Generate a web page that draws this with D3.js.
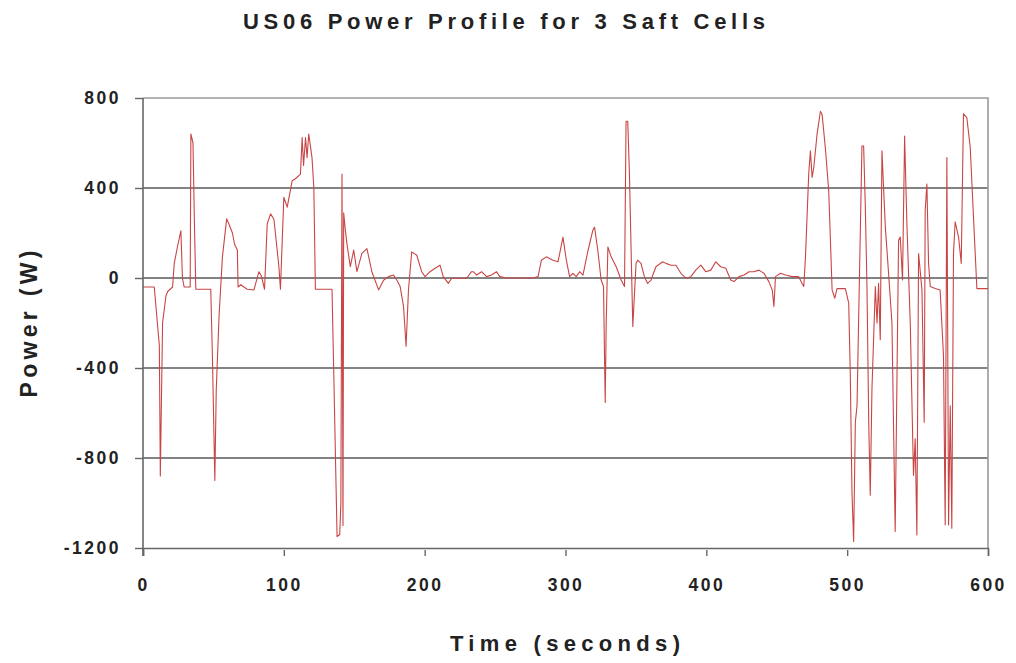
<!DOCTYPE html>
<html>
<head>
<meta charset="utf-8">
<script src="https://cdn.jsdelivr.net/npm/d3@7"></script>
<style>
  body { margin: 0; background: #fff; }
  text { font-family: "Liberation Sans", Arial, sans-serif; font-weight: bold; fill: #222; }
</style>
</head>
<body>
<script>
var w = 1016
var h = 663

// time in seconds, power in W
var times = [0, 8, 11.6, 12.3, 13.9, 16.3, 17.5, 21, 22.2, 24.5, 26.9, 28, 29.2, 31.6, 33.5, 34, 35.5, 36.5, 37.5,
    48.1, 49.3, 51, 52, 54, 56.4, 59.4, 61, 63.5, 65, 67, 67.5, 69.4, 74, 78.8, 82.3, 84, 86.3, 88.2, 90.6, 93,
    96.5, 97.6, 100, 102.4, 105.9, 108, 111.8, 113, 114, 115.4, 116.5, 117.7, 120, 121.3, 122.4, 134.2, 135.4,
    137.8, 139.7, 140.5, 141.3, 142, 142.5, 143.7, 144.8, 147.2, 149.6, 151.9, 155.4, 159, 162.5, 167.3, 170.8,
    174.3, 177.9, 180.2, 182.6, 185, 186.8, 188.5, 190.8, 194.4, 197.9, 200.3, 203.8, 207.4, 210.9, 213.2, 216.8,
    219.1, 222.7, 229.8, 233.3, 234.5, 236.9, 240.4, 243.9, 247.5, 251, 253.4, 258.1, 277, 280.5, 282.9, 286.4,
    291.1, 294.7, 298.2, 300.6, 302.9, 305.3, 307.6, 310, 312.4, 315.9, 319.4, 320.6, 323, 325.3, 327, 327.7,
    328.2, 328.9, 330.1, 332.4, 336, 339.5, 341.9, 343, 344.2, 345.4, 346.6, 347.8, 350.1, 351.3, 353.6, 356,
    358.3, 360.7, 364.2, 369, 371.3, 374.8, 378.4, 381.9, 385.5, 389, 392.5, 396.1, 399.6, 403.2, 406.7, 410.2,
    413.8, 417.3, 419.7, 423.2, 426.8, 430.3, 433.8, 437.4, 440.9, 444.4, 446.8, 448, 449.1, 452.7, 456.2, 460.9,
    465.6, 468, 469.2, 470.4, 472.7, 473.9, 475.1, 476.3, 478.6, 481, 482.2, 484.5, 486.9, 488.1, 489.3, 491.2,
    492.8, 498.7, 501.1, 502.2, 503.4, 504.6, 505.8, 507, 508.1, 510.5, 511.7, 512.9, 514.1, 515.3, 516.4, 517.6,
    520, 521.2, 522.3, 523.5, 524.7, 527.1, 529.4, 531.8, 534.1, 536.5, 537.7, 539.3, 540.8, 542.4, 544.8, 547.1,
    548.3, 549.5, 550.7, 553.1, 554.7, 555.4, 556.6, 557.8, 559, 562.5, 566, 568.4, 569.6, 570.8, 572, 573.2,
    574.3, 575.5, 576.7, 579.1, 581, 582.6, 585, 587.4, 589.7, 592.1, 598, 600]

var power = [-40, -40, -300, -880, -200, -80, -60, -40, 65, 140, 210, 0, -40, -40, -40, 640, 600, 250, -50,
    -50, -350, -900, -500, -170, 94, 263, 240, 200, 150, 124, -40, -30, -50, -53, 28, 10, -50, 241, 285, 260,
    50, -50, 359, 315, 432, 440, 462, 624, 500, 624, 535, 640, 535, 403, -50, -50, -406,
    -1149, -1140, -1000, 462, -1100, 290, 212, 153, 50, 124, 28, 109, 131, 28, -53, -10,
    6, 13, -9, -38, -127, -303, -53, 116, 101, 28, 6, 28, 43, 57, 6, -24,
    -1, -1, -1, 28, 28, 13, 28, 6, 13, 28, 6, 0, 0, 6, 79, 94,
    79, 72, 182, 79, 6, 21, 6, 28, 13, 120, 212, 226, 120, -9, -38, -347,
    -553, -200, 138, 94, 50, -9, -38, 697, 697, 462, 120, -215, 65, 79, 65, 6,
    -24, -9, 50, 72, 65, 57, 57, 21, -1, 6, 35, 57, 28, 35, 72, 50,
    43, -9, -16, 6, 13, 28, 28, 35, 21, -16, -53, -127, 6, 21, 13, 6,
    6, -24, -38, 94, 462, 565, 447, 491, 638, 741, 727, 579, 388, 168, -53, -90,
    -47, -47, -112, -421, -950, -1171, -641, -568, -200, 587, 587, 315, -53, -641, -965, -494,
    -38, -200, -24, -274, 565, 226, 21, -200, -1127, 168, 182, -9, 631, 241, -200, -877,
    -715, -1142, 109, -53, -641, 300, 418, 65, -38, -47, -53, -347, -1097, 535, -1097, -568,
    -1112, 109, 250, 182, 65, 730, 712, 579, 271, -47, -47, -47]

var xTicks = [0, 100, 200, 300, 400, 500, 600]
var yTicks = [-1200, -800, -400, 0, 400, 800]

var margin = {left: 143, right: 28, top: 98, bottom: 115}

var x = d3.scaleLinear().domain([0, 600]).range([margin.left, w - margin.right])
var y = d3.scaleLinear().domain([-1200, 800]).range([h - margin.bottom, margin.top])

var svg = d3.select("body")
    .append("svg")
    .attr("width", w)
    .attr("height", h)

// gridlines
svg.append("g")
    .selectAll("line")
    .data(yTicks.filter(function(d) { return d > -1200 && d < 800 }))
    .enter()
    .append("line")
    .attr("x1", x(0))
    .attr("x2", x(600))
    .attr("y1", function(d) { return y(d) })
    .attr("y2", function(d) { return y(d) })
    .style("stroke", "#5a5a5a")
    .style("stroke-width", 1.6)

// frame top + right
svg.append("path")
    .attr("d", "M" + x(0) + "," + y(800) + "H" + x(600) + "V" + y(-1200))
    .style("fill", "none")
    .style("stroke", "#9a9a9a")
    .style("stroke-width", 1.6)

var line = d3.line()
    .x(function(d, i) { return x(times[i]) })
    .y(function(d) { return y(d) })

svg.append("path")
    .datum(power)
    .attr("d", line)
    .style("fill", "none")
    .style("stroke", "#c94545")
    .style("stroke-width", 1.1)
    .style("stroke-linejoin", "round")

var xAxis = d3.axisBottom(x).tickValues(xTicks).tickSize(8).tickPadding(23).tickFormat(d3.format("d"))
var yAxis = d3.axisLeft(y).tickValues(yTicks).tickSize(8).tickPadding(14).tickFormat(function(d) { return String(d) })

var gx = svg.append("g")
    .attr("transform", "translate(0," + y(-1200) + ")")
    .call(xAxis)
var gy = svg.append("g")
    .attr("transform", "translate(" + x(0) + ",0)")
    .call(yAxis)

gx.selectAll("text").style("font-size", "17.5px").style("letter-spacing", "2.5px")
gy.selectAll("text").style("font-size", "17.5px").style("letter-spacing", "2.5px")
svg.selectAll(".domain").style("stroke", "#666").style("stroke-width", 1.6)
svg.selectAll(".tick line").style("stroke", "#666").style("stroke-width", 1.4)
gx.selectAll(".tick line").attr("y1", 2)
gy.select(".domain").attr("d", "M0," + y(800) + "V" + (y(-1200) + 8))

svg.append("text")
    .attr("x", 504)
    .attr("y", 29)
    .attr("text-anchor", "middle")
    .attr("textLength", 522)
    .attr("lengthAdjust", "spacing")
    .style("font-size", "22px")
    .text("US06 Power Profile for 3 Saft Cells")

svg.append("text")
    .attr("transform", "translate(37,324) rotate(-90)")
    .attr("text-anchor", "middle")
    .attr("textLength", 147)
    .attr("lengthAdjust", "spacing")
    .style("font-size", "23px")
    .text("Power (W)")

svg.append("text")
    .attr("x", 565)
    .attr("y", 651)
    .attr("text-anchor", "middle")
    .attr("textLength", 230)
    .attr("lengthAdjust", "spacing")
    .style("font-size", "22px")
    .text("Time (seconds)")
</script>
</body>
</html>
